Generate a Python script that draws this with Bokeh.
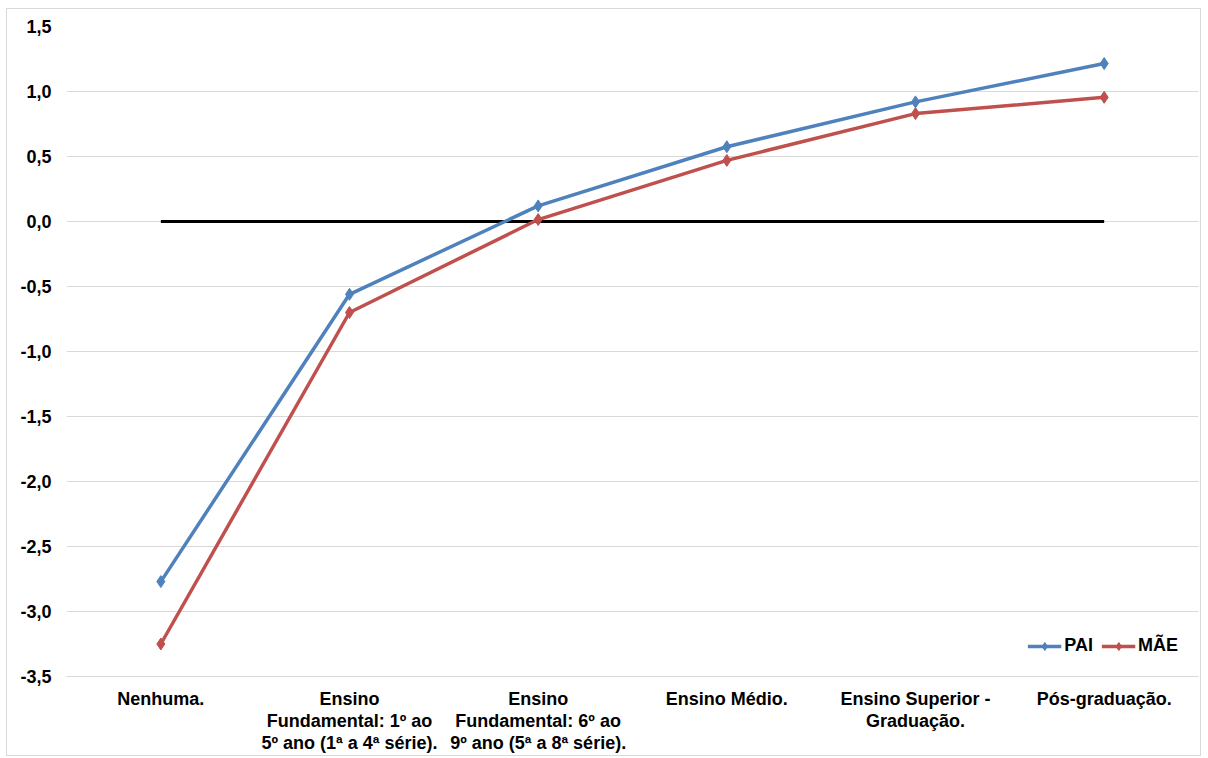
from bokeh.plotting import figure
from bokeh.models import FactorRange, FixedTicker, CustomJSTickFormatter, Legend, LegendItem
from bokeh.embed import file_html
from bokeh.resources import INLINE

categorias = [
    "Nenhuma.",
    "Ensino\nFundamental: 1º ao\n5º ano (1ª a 4ª série).",
    "Ensino\nFundamental: 6º ao\n9º ano (5ª a 8ª série).",
    "Ensino Médio.",
    "Ensino Superior -\nGraduação.",
    "Pós-graduação.",
]
pai = [-2.77, -0.56, 0.12, 0.575, 0.92, 1.215]
mae = [-3.25, -0.70, 0.015, 0.47, 0.83, 0.955]
linha_zero = [0.0, 0.0, 0.0, 0.0, 0.0, 0.0]
y_ticks = [-3.5, -3.0, -2.5, -2.0, -1.5, -1.0, -0.5, 0.0, 0.5, 1.0, 1.5]

AZUL = "#4f81bd"
VERMELHO = "#c0504d"
FONTE = "Liberation Sans"

p = figure(
    width=1195, height=748,
    x_range=FactorRange(factors=categorias),
    y_range=(-3.5, 1.5),
    output_backend="svg", toolbar_location=None,
    min_border_left=59, min_border_right=4, min_border_top=17, min_border_bottom=81,
)
p.styles = {"border": "1px solid #d9d9d9", "margin-left": "6px", "margin-top": "8px"}
p.outline_line_color = None
p.background_fill_color = "white"

p.xgrid.grid_line_color = None
p.ygrid.grid_line_color = "#d9d9d9"
p.ygrid.grid_line_width = 1

p.yaxis.ticker = FixedTicker(ticks=y_ticks)
p.yaxis.formatter = CustomJSTickFormatter(code="return tick.toFixed(1).replace('.', ',');")
for ax in (p.xaxis, p.yaxis):
    ax.major_tick_line_color = None
    ax.minor_tick_line_color = None
    ax.major_label_text_font = FONTE
    ax.major_label_text_font_style = "bold"
    ax.major_label_text_font_size = "18px"
    ax.major_label_text_color = "black"
p.yaxis.axis_line_color = None
p.xaxis.axis_line_color = "#d9d9d9"
p.yaxis.major_label_standoff = 9
p.xaxis.major_label_standoff = 6
p.xaxis.major_label_text_line_height = 1.1

p.line(categorias, linha_zero, line_color="black", line_width=3)

l1 = p.line(categorias, pai, line_color=AZUL, line_width=3.5)
s1 = p.scatter(categorias, pai, marker="diamond", size=12, fill_color=AZUL, line_color=AZUL)
l2 = p.line(categorias, mae, line_color=VERMELHO, line_width=3.5)
s2 = p.scatter(categorias, mae, marker="diamond", size=12, fill_color=VERMELHO, line_color=VERMELHO)

legend = Legend(
    items=[LegendItem(label="PAI", renderers=[l1, s1]), LegendItem(label="MÃE", renderers=[l2, s2])],
    location="bottom_right", orientation="horizontal",
    border_line_color=None, background_fill_alpha=0,
    label_text_font=FONTE, label_text_font_style="bold", label_text_font_size="18px",
    label_text_color="black",
    glyph_width=34, glyph_height=20, label_standoff=3, spacing=8, padding=4, margin=20,
)
p.add_layout(legend)

open("out.html", "w").write(file_html(p, INLINE))
